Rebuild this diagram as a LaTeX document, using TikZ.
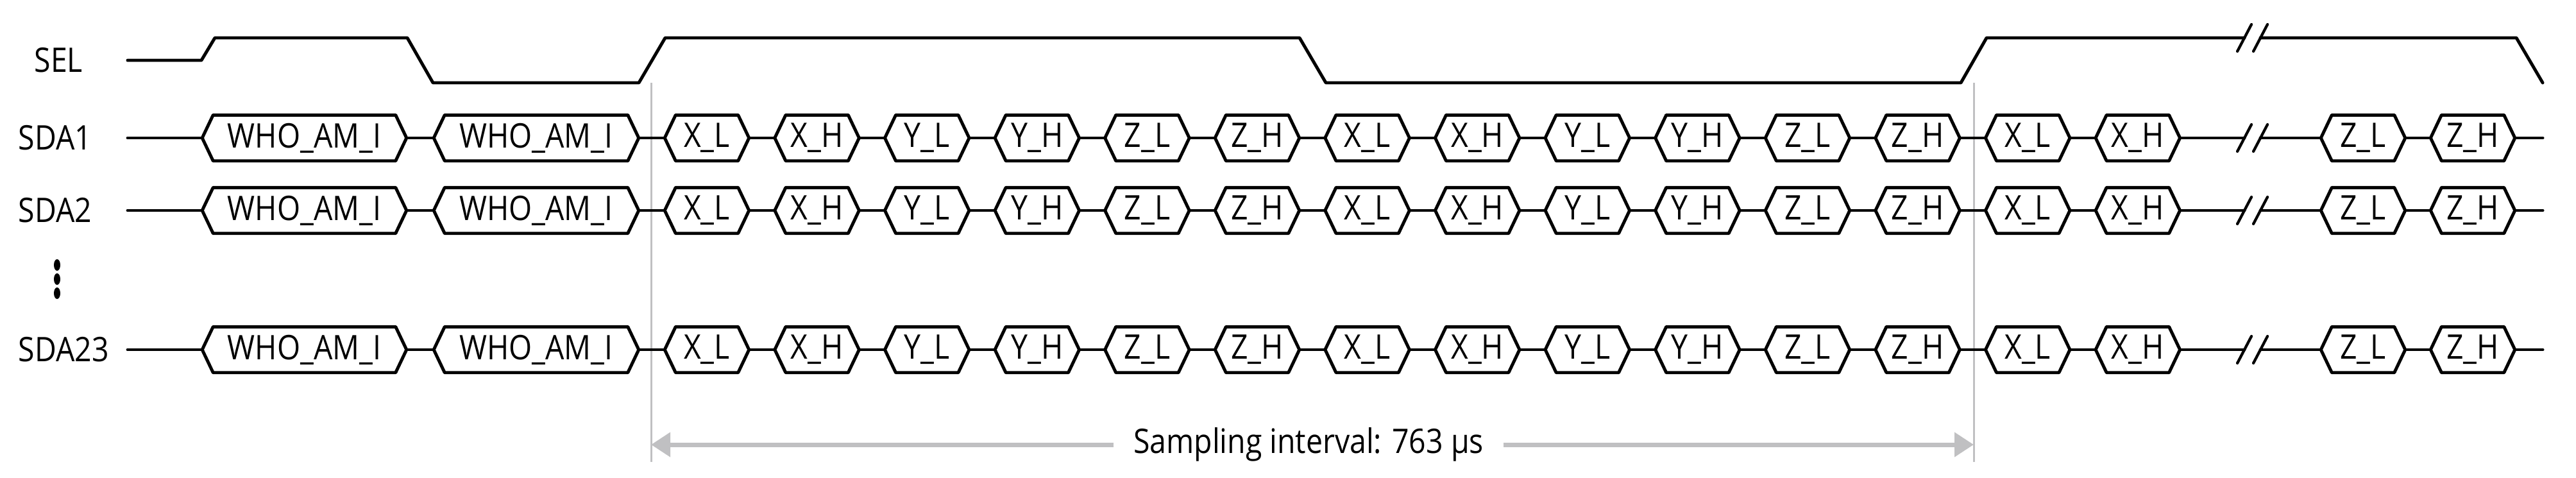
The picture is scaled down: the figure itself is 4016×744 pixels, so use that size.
\documentclass[tikz,border=0pt]{standalone}
\usepackage{fontspec}
\setmainfont[FakeStretch=0.88]{Open Sans}
\usetikzlibrary{arrows.meta}
\definecolor{gl}{HTML}{C0C0C2}
\tikzset{
  sig/.style={line width=1.4pt, line join=round, line cap=round},
  sigcut/.style={line width=1.2pt, line cap=round},
  boxnode/.style={inner sep=0pt, minimum height=0.7cm, font=\fontsize{15}{15}\selectfont},
  lbl/.style={anchor=west, inner sep=0pt, font=\fontsize{15}{15}\selectfont},
  guide/.style={gl, line width=0.85pt},
  span/.style={gl, line width=2pt},
}
\newcommand\hexbox[5]{%
  \node[boxnode, minimum width={#3*0.1mm}] (#1) at ({#2+#3/2},#4) {#5};
  \draw[sig] (#1.west) -- ([xshift=0.17cm]#1.north west) -- ([xshift=-0.17cm]#1.north east)
    -- (#1.east) -- ([xshift=-0.17cm]#1.south east) -- ([xshift=0.17cm]#1.south west) -- cycle;}
\newcommand\cutmark[1]{\draw[sigcut] ([shift={(-11,21)}]#1) -- ([shift={(11,-21)}]#1);}
\begin{document}
\begin{tikzpicture}[x=0.01cm,y=-0.01cm]
\useasboundingbox (0,0) rectangle (4016,744);
% guides
\draw[guide] (1015,129) coordinate (g1t) -- (1015,720) coordinate (g1b);
\draw[guide] (3077,129) coordinate (g2t) -- (3077,720) coordinate (g2b);
% SEL
\node[lbl] (sel) at (53,94) {SEL};
\coordinate (s0) at (199,94);
\coordinate (sc1) at (3499,59);
\coordinate (sc2) at (3524,59);
\draw[sig] (s0) -- (314,94) -- (335,59) -- (635,59) -- (675,129) -- (996,129) -- (1037,59)
  -- (2026,59) -- (2067,129) -- (3057,129) -- (3097,59) -- (sc1);
\draw[sig] (sc2) -- (3923,59) -- (3964,129);
\cutmark{sc1}\cutmark{sc2}
% dots
\foreach \yy [count=\k] in {413,435,457} \fill (89,\yy) coordinate (dot\k) ellipse (5 and 9);
% data rows
\foreach \r/\y/\nm in {a/215/SDA1, b/328/SDA2, c/545/SDA23}{
  \node[lbl] (\r lab) at (28,\y) {\nm};
  \coordinate (\r s) at (199,\y);
  \coordinate (\r e) at (3964,\y);
  \coordinate (\r c1) at (3499,\y);
  \coordinate (\r c2) at (3524,\y);
  \hexbox{\r w1}{316}{317}{\y}{WHO\_AM\_I}
  \hexbox{\r w2}{677}{318}{\y}{WHO\_AM\_I}
  \foreach \t [count=\i from 0] in {X\_L,X\_H,Y\_L,Y\_H,Z\_L,Z\_H,X\_L,X\_H,Y\_L,Y\_H,Z\_L,Z\_H,X\_L,X\_H}{
    \hexbox{\r d\i}{1037+171.6*\i}{130}{\y}{\t}}
  \hexbox{\r z1}{3619}{130}{\y}{Z\_L}
  \hexbox{\r z2}{3790}{130}{\y}{Z\_H}
  \draw[sig] (\r s) -- (\r w1.west);
  \draw[sig] (\r w1.east) -- (\r w2.west);
  \draw[sig] (\r w2.east) -- (\r d0.west);
  \foreach \i in {0,...,12}{\pgfmathtruncatemacro\j{\i+1}
    \draw[sig] (\r d\i.east) -- (\r d\j.west);}
  \draw[sig] (\r d13.east) -- (\r c1);
  \draw[sig] (\r c2) -- (\r z1.west);
  \draw[sig] (\r z1.east) -- (\r z2.west);
  \draw[sig] (\r z2.east) -- (\r e);
  \cutmark{\r c1}\cutmark{\r c2}
}
% sampling interval
\node[inner sep=0pt, font=\fontsize{15}{15}\selectfont] (si) at (2040,693) {Sampling interval: 763 μs};
\coordinate (a1) at (1015,693);
\coordinate (a2) at (3077,693);
\draw[span, -{Triangle[length=0.3cm,width=0.37cm]}] ([xshift=-0.3cm]si.west) -- (a1);
\draw[span, -{Triangle[length=0.3cm,width=0.37cm]}] ([xshift=0.3cm]si.east) -- (a2);
\end{tikzpicture}
\end{document}
